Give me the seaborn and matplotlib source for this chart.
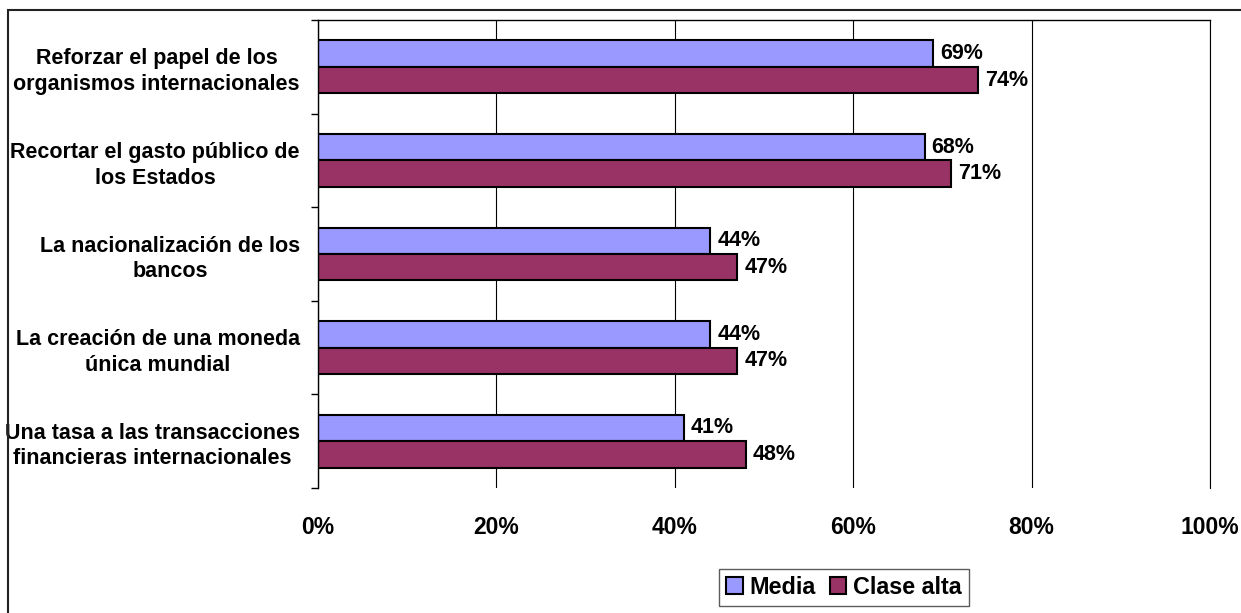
import matplotlib
matplotlib.use("Agg")
import matplotlib.pyplot as plt
import seaborn as sns
import pandas as pd
import numpy as np
from matplotlib.patches import Rectangle

categories = [
    "Reforzar el papel de los\norganismos internacionales",
    "Recortar el gasto público de\nlos Estados",
    "La nacionalización de los\nbancos",
    "La creación de una moneda\núnica mundial",
    "Una tasa a las transacciones\nfinancieras internacionales",
]
series_names = ["Media", "Clase alta"]
media = [69, 68, 44, 44, 41]
clase_alta = [74, 71, 47, 47, 48]
x_ticks = [0, 20, 40, 60, 80, 100]
colors = ["#9999FF", "#993366"]

df = pd.DataFrame({
    "cat": categories * 2,
    "serie": [series_names[0]] * len(categories) + [series_names[1]] * len(categories),
    "val": media + clase_alta,
})

sns.set_theme(style="white")
plt.rcParams["font.family"] = ["Liberation Sans", "DejaVu Sans"]
plt.rcParams["font.weight"] = "bold"
plt.rcParams["text.color"] = "black"
plt.rcParams["xtick.color"] = "black"
plt.rcParams["ytick.color"] = "black"
plt.rcParams["axes.labelcolor"] = "black"

FS_Y = 15.5
FS_V = 15.5
FS_X = 16.5
FS_L = 16.8

fig = plt.figure(figsize=(12.41, 6.13), dpi=100)
ax = fig.add_axes([318/1241, 1-488/613, (1210-318)/1241, (488-20)/613])

sns.barplot(data=df, x="val", y="cat", hue="serie", order=categories,
            hue_order=series_names, palette=colors, orient="h", width=0.566,
            edgecolor="black", linewidth=1.5, saturation=1, legend=False, ax=ax)

for cont in ax.containers:
    ax.bar_label(cont, fmt="%d%%", padding=5, fontsize=FS_V, fontweight="bold", color="black")

ax.set_xlim(0, 100)
ax.set_ylim(len(categories) - 0.5, -0.5)
ax.set_xticks(x_ticks)
ax.set_xticklabels([f"{v}%" for v in x_ticks], fontsize=FS_X, fontweight="bold", color="black")
ax.tick_params(axis="x", length=0, pad=20)
ax.set_yticks(range(len(categories)))
ax.set_yticklabels(categories, fontsize=FS_Y, fontweight="bold", color="black")
for t in ax.get_yticklabels():
    t.set_multialignment("center")
    t.set_linespacing(1.3)
ax.tick_params(axis="y", which="major", length=0, pad=13)
ax.set_yticks(np.arange(-0.5, len(categories), 1.0), minor=True)
ax.tick_params(axis="y", which="minor", length=5, width=1, color="black", direction="out", left=True)
ax.set_xlabel("")
ax.set_ylabel("")

ax.xaxis.grid(True, color="black", linewidth=0.8)
ax.yaxis.grid(False)
ax.set_axisbelow(True)
for s in ["left", "top"]:
    ax.spines[s].set_visible(True)
    ax.spines[s].set_color("black")
    ax.spines[s].set_linewidth(1.0)
ax.spines["right"].set_visible(True)
ax.spines["right"].set_color("black")
ax.spines["right"].set_linewidth(0.8)
ax.spines["bottom"].set_visible(False)

handles = [Rectangle((0, 0), 1, 1, facecolor=c, edgecolor="black", linewidth=1.5) for c in colors]
leg = fig.legend(handles, series_names, loc="center", bbox_to_anchor=(844/1241, 1-587/613),
                 ncol=2, frameon=True, fancybox=False, edgecolor="#333333",
                 handlelength=0.7, handleheight=0.7, handletextpad=0.3,
                 columnspacing=0.6, borderpad=0.3, prop={"size": FS_L, "weight": "bold"})
leg.get_frame().set_linewidth(1.0)

fig.patches.append(Rectangle((8/1241, -0.05), 1.1, 1 - 10/613 + 0.05, transform=fig.transFigure,
                             fill=False, edgecolor="#222222", linewidth=1.5))

fig.savefig("out.png", dpi=100)
